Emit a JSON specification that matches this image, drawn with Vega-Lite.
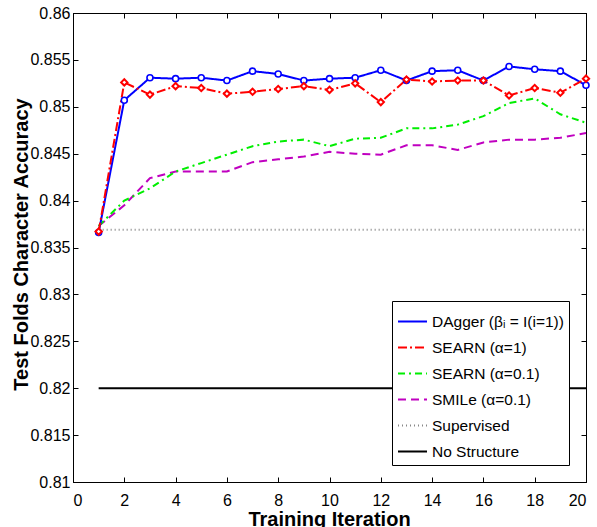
{
  "$schema": "https://vega.github.io/schema/vega-lite/v6.json",
  "width": 513,
  "height": 469,
  "autosize": "none",
  "padding": {"left": 73, "top": 13, "right": 11, "bottom": 45},
  "background": "white",
  "config": {
    "font": "Liberation Sans",
    "view": {"stroke": "black", "strokeWidth": 1},
    "axis": {
      "grid": false,
      "domainColor": "black",
      "domainWidth": 1,
      "tickColor": "black",
      "tickSize": -5,
      "tickWidth": 1,
      "labelColor": "black",
      "labelFont": "Liberation Sans",
      "labelFontSize": 16,
      "titleColor": "black",
      "titleFont": "Liberation Sans",
      "titleFontSize": 20,
      "titleFontWeight": "bold"
    },
    "legend": {
      "labelFont": "Liberation Sans",
      "labelFontSize": 15.5,
      "labelColor": "black"
    }
  },
  "datasets": {
    "lines": [
      {"series": "No Structure", "iter": 1, "acc": 0.8200},
      {"series": "No Structure", "iter": 20, "acc": 0.8200},
      {"series": "Supervised", "iter": 1, "acc": 0.8369},
      {"series": "Supervised", "iter": 20, "acc": 0.8369},
      {"series": "SMILe (α=0.1)", "iter": 1, "acc": 0.8373},
      {"series": "SMILe (α=0.1)", "iter": 2, "acc": 0.8395},
      {"series": "SMILe (α=0.1)", "iter": 3, "acc": 0.8424},
      {"series": "SMILe (α=0.1)", "iter": 4, "acc": 0.8431},
      {"series": "SMILe (α=0.1)", "iter": 5, "acc": 0.8431},
      {"series": "SMILe (α=0.1)", "iter": 6, "acc": 0.8431},
      {"series": "SMILe (α=0.1)", "iter": 7, "acc": 0.8441},
      {"series": "SMILe (α=0.1)", "iter": 8, "acc": 0.8444},
      {"series": "SMILe (α=0.1)", "iter": 9, "acc": 0.8447},
      {"series": "SMILe (α=0.1)", "iter": 10, "acc": 0.8452},
      {"series": "SMILe (α=0.1)", "iter": 11, "acc": 0.8450},
      {"series": "SMILe (α=0.1)", "iter": 12, "acc": 0.8449},
      {"series": "SMILe (α=0.1)", "iter": 13, "acc": 0.8459},
      {"series": "SMILe (α=0.1)", "iter": 14, "acc": 0.8459},
      {"series": "SMILe (α=0.1)", "iter": 15, "acc": 0.8454},
      {"series": "SMILe (α=0.1)", "iter": 16, "acc": 0.8462},
      {"series": "SMILe (α=0.1)", "iter": 17, "acc": 0.8465},
      {"series": "SMILe (α=0.1)", "iter": 18, "acc": 0.8465},
      {"series": "SMILe (α=0.1)", "iter": 19, "acc": 0.8467},
      {"series": "SMILe (α=0.1)", "iter": 20, "acc": 0.8472},
      {"series": "SEARN (α=0.1)", "iter": 1, "acc": 0.8373},
      {"series": "SEARN (α=0.1)", "iter": 2, "acc": 0.8400},
      {"series": "SEARN (α=0.1)", "iter": 3, "acc": 0.8413},
      {"series": "SEARN (α=0.1)", "iter": 4, "acc": 0.8431},
      {"series": "SEARN (α=0.1)", "iter": 5, "acc": 0.8440},
      {"series": "SEARN (α=0.1)", "iter": 6, "acc": 0.8449},
      {"series": "SEARN (α=0.1)", "iter": 7, "acc": 0.8458},
      {"series": "SEARN (α=0.1)", "iter": 8, "acc": 0.8463},
      {"series": "SEARN (α=0.1)", "iter": 9, "acc": 0.8465},
      {"series": "SEARN (α=0.1)", "iter": 10, "acc": 0.8458},
      {"series": "SEARN (α=0.1)", "iter": 11, "acc": 0.8466},
      {"series": "SEARN (α=0.1)", "iter": 12, "acc": 0.8467},
      {"series": "SEARN (α=0.1)", "iter": 13, "acc": 0.8477},
      {"series": "SEARN (α=0.1)", "iter": 14, "acc": 0.8477},
      {"series": "SEARN (α=0.1)", "iter": 15, "acc": 0.8481},
      {"series": "SEARN (α=0.1)", "iter": 16, "acc": 0.8490},
      {"series": "SEARN (α=0.1)", "iter": 17, "acc": 0.8504},
      {"series": "SEARN (α=0.1)", "iter": 18, "acc": 0.8509},
      {"series": "SEARN (α=0.1)", "iter": 19, "acc": 0.8492},
      {"series": "SEARN (α=0.1)", "iter": 20, "acc": 0.8483},
      {"series": "DAgger (βᵢ = I(i=1))", "iter": 1, "acc": 0.8366},
      {"series": "DAgger (βᵢ = I(i=1))", "iter": 2, "acc": 0.8507},
      {"series": "DAgger (βᵢ = I(i=1))", "iter": 3, "acc": 0.8531},
      {"series": "DAgger (βᵢ = I(i=1))", "iter": 4, "acc": 0.8530},
      {"series": "DAgger (βᵢ = I(i=1))", "iter": 5, "acc": 0.8531},
      {"series": "DAgger (βᵢ = I(i=1))", "iter": 6, "acc": 0.8528},
      {"series": "DAgger (βᵢ = I(i=1))", "iter": 7, "acc": 0.8538},
      {"series": "DAgger (βᵢ = I(i=1))", "iter": 8, "acc": 0.8535},
      {"series": "DAgger (βᵢ = I(i=1))", "iter": 9, "acc": 0.8528},
      {"series": "DAgger (βᵢ = I(i=1))", "iter": 10, "acc": 0.8530},
      {"series": "DAgger (βᵢ = I(i=1))", "iter": 11, "acc": 0.8531},
      {"series": "DAgger (βᵢ = I(i=1))", "iter": 12, "acc": 0.8539},
      {"series": "DAgger (βᵢ = I(i=1))", "iter": 13, "acc": 0.8528},
      {"series": "DAgger (βᵢ = I(i=1))", "iter": 14, "acc": 0.8538},
      {"series": "DAgger (βᵢ = I(i=1))", "iter": 15, "acc": 0.8539},
      {"series": "DAgger (βᵢ = I(i=1))", "iter": 16, "acc": 0.8528},
      {"series": "DAgger (βᵢ = I(i=1))", "iter": 17, "acc": 0.8543},
      {"series": "DAgger (βᵢ = I(i=1))", "iter": 18, "acc": 0.8540},
      {"series": "DAgger (βᵢ = I(i=1))", "iter": 19, "acc": 0.8538},
      {"series": "DAgger (βᵢ = I(i=1))", "iter": 20, "acc": 0.8523},
      {"series": "SEARN (α=1)", "iter": 1, "acc": 0.8367},
      {"series": "SEARN (α=1)", "iter": 2, "acc": 0.8526},
      {"series": "SEARN (α=1)", "iter": 3, "acc": 0.8513},
      {"series": "SEARN (α=1)", "iter": 4, "acc": 0.8522},
      {"series": "SEARN (α=1)", "iter": 5, "acc": 0.8520},
      {"series": "SEARN (α=1)", "iter": 6, "acc": 0.8514},
      {"series": "SEARN (α=1)", "iter": 7, "acc": 0.8516},
      {"series": "SEARN (α=1)", "iter": 8, "acc": 0.8519},
      {"series": "SEARN (α=1)", "iter": 9, "acc": 0.8522},
      {"series": "SEARN (α=1)", "iter": 10, "acc": 0.8518},
      {"series": "SEARN (α=1)", "iter": 11, "acc": 0.8525},
      {"series": "SEARN (α=1)", "iter": 12, "acc": 0.8505},
      {"series": "SEARN (α=1)", "iter": 13, "acc": 0.8529},
      {"series": "SEARN (α=1)", "iter": 14, "acc": 0.8527},
      {"series": "SEARN (α=1)", "iter": 15, "acc": 0.8528},
      {"series": "SEARN (α=1)", "iter": 16, "acc": 0.8528},
      {"series": "SEARN (α=1)", "iter": 17, "acc": 0.8512},
      {"series": "SEARN (α=1)", "iter": 18, "acc": 0.8520},
      {"series": "SEARN (α=1)", "iter": 19, "acc": 0.8515},
      {"series": "SEARN (α=1)", "iter": 20, "acc": 0.8530}
    ]
  },
  "data": {"name": "lines"},
  "layer": [
    {
      "mark": {"type": "line"},
      "encoding": {
        "x": {
          "field": "iter", "type": "quantitative",
          "scale": {"domain": [0, 20], "nice": false, "zero": false},
          "axis": {
            "orient": "bottom",
            "values": [0, 2, 4, 6, 8, 10, 12, 14, 16, 18, 20],
            "labelPadding": 15,
            "title": "Training Iteration",
            "titleX": 256, "titleY": 43, "titleBaseline": "alphabetic"
          }
        },
        "y": {
          "field": "acc", "type": "quantitative",
          "scale": {"domain": [0.81, 0.86], "nice": false, "zero": false},
          "axis": {
            "orient": "left",
            "values": [0.81, 0.815, 0.82, 0.825, 0.83, 0.835, 0.84, 0.845, 0.85, 0.855, 0.86],
            "format": ".3~f",
            "labelPadding": 8,
            "title": "Test Folds Character Accuracy",
            "titleX": -46, "titleY": 231, "titleBaseline": "alphabetic"
          }
        },
        "color": {
          "field": "series", "type": "nominal",
          "scale": {
            "domain": ["DAgger (βᵢ = I(i=1))", "SEARN (α=1)", "SEARN (α=0.1)", "SMILe (α=0.1)", "Supervised", "No Structure"],
            "range": ["#0000ff", "#ff0000", "#00ee00", "#c000c0", "#888888", "#000000"]
          },
          "legend": {
            "title": null,
            "orient": "none",
            "legendX": 319, "legendY": 288,
            "strokeColor": "black",
            "fillColor": "white",
            "padding": 5,
            "symbolType": "stroke",
            "symbolSize": 841,
            "symbolStrokeWidth": 2,
            "labelOffset": 4,
            "rowPadding": 2,
            "labelLimit": 300
          }
        },
        "strokeDash": {
          "field": "series", "type": "nominal",
          "scale": {
            "domain": ["DAgger (βᵢ = I(i=1))", "SEARN (α=1)", "SEARN (α=0.1)", "SMILe (α=0.1)", "Supervised", "No Structure"],
            "range": [[1, 0], [9, 3, 2, 3], [7, 4, 2, 4], [8, 5], [1, 3], [1, 0]]
          },
          "legend": {"title": null}
        },
        "strokeWidth": {
          "field": "series", "type": "nominal",
          "scale": {
            "domain": ["DAgger (βᵢ = I(i=1))", "SEARN (α=1)", "SEARN (α=0.1)", "SMILe (α=0.1)", "Supervised", "No Structure"],
            "range": [2, 2, 1.6, 2, 1, 2]
          },
          "legend": null
        }
      }
    },
    {
      "transform": [{"filter": "datum.series === 'DAgger (βᵢ = I(i=1))'"}],
      "mark": {"type": "point", "shape": "circle", "filled": true, "fill": "white", "stroke": "#0000ff", "strokeWidth": 1.6, "size": 36, "opacity": 1},
      "encoding": {
        "x": {
          "field": "iter", "type": "quantitative",
          "axis": {"orient": "top", "values": [0, 2, 4, 6, 8, 10, 12, 14, 16, 18, 20], "labels": false, "title": null}
        },
        "y": {
          "field": "acc", "type": "quantitative",
          "axis": {"orient": "right", "values": [0.81, 0.815, 0.82, 0.825, 0.83, 0.835, 0.84, 0.845, 0.85, 0.855, 0.86], "labels": false, "title": null}
        }
      }
    },
    {
      "transform": [{"filter": "datum.series === 'SEARN (α=1)'"}],
      "mark": {"type": "point", "shape": "diamond", "filled": true, "fill": "white", "stroke": "#ff0000", "strokeWidth": 2, "size": 40, "opacity": 1},
      "encoding": {
        "x": {"field": "iter", "type": "quantitative", "axis": null},
        "y": {"field": "acc", "type": "quantitative", "axis": null}
      }
    }
  ],
  "resolve": {"axis": {"x": "independent", "y": "independent"}}
}
